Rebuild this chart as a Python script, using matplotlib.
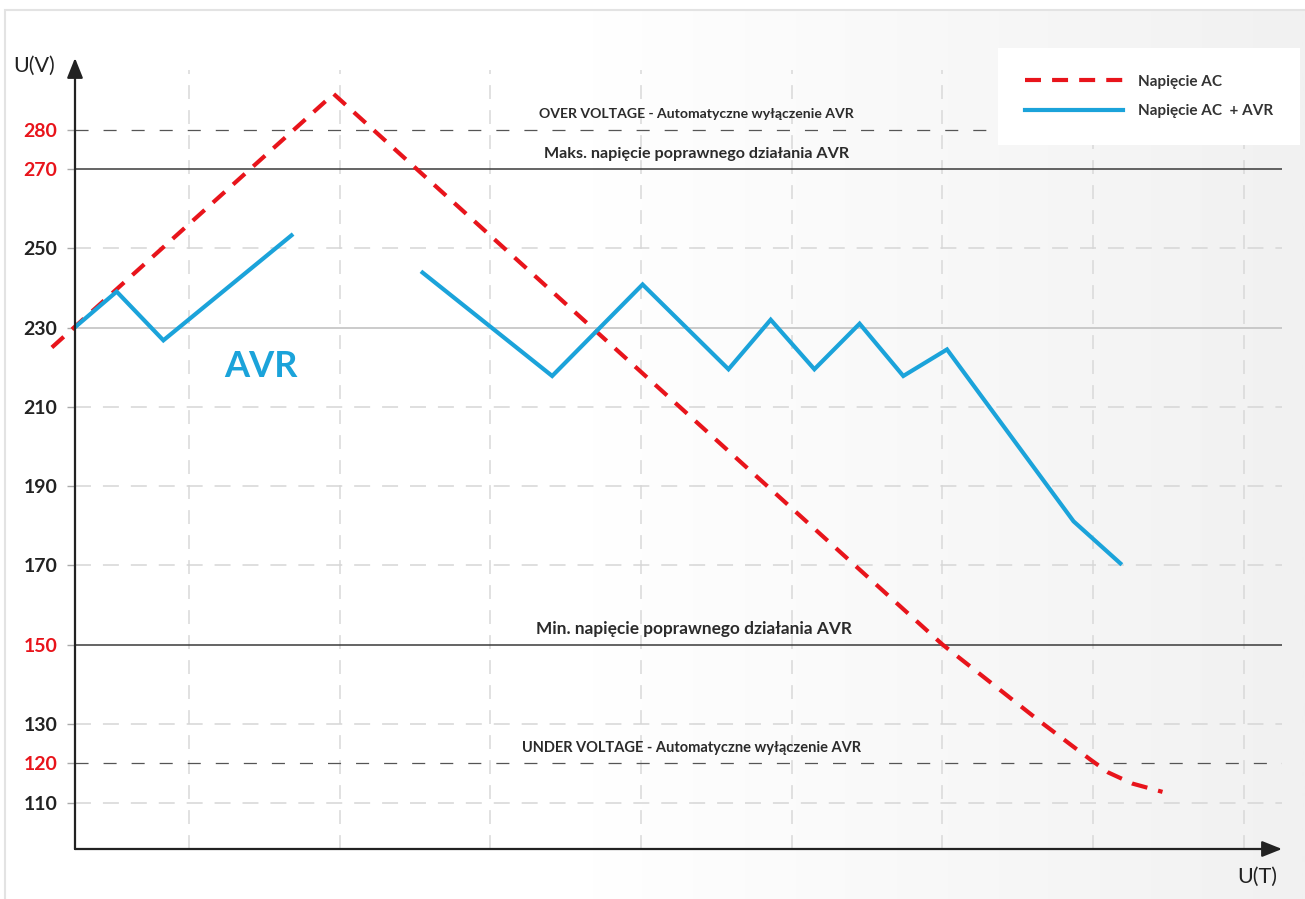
import numpy as np
import matplotlib
matplotlib.use('Agg')
import matplotlib.pyplot as plt
import matplotlib.transforms as mtransforms
from matplotlib.colors import LinearSegmentedColormap
from matplotlib.patches import Rectangle

plt.rcParams['font.family'] = ['Lato', 'DejaVu Sans']
plt.rcParams['lines.scale_dashes'] = False

# Napięcie AC (red dashed)
ac_t = [0.09, 1.96, 6.00, 6.65, 6.98, 7.10, 7.26, 7.46]
ac_u = [225.0, 289.0, 150.0, 130.5, 121.0, 117.7, 114.9, 112.8]

# Napięcie AC + AVR (blue), drawn in two pieces
avr1_t = [0.24, 0.52, 0.83, 1.68]
avr1_u = [230.0, 239.1, 226.8, 253.3]
avr2_t = [2.55, 3.41, 4.01, 4.58, 4.86, 5.15, 5.45, 5.74, 6.03, 6.87, 7.18]
avr2_u = [243.9, 217.8, 240.9, 219.5, 232.0, 219.5, 231.0, 217.8, 224.5, 181.1, 170.5]

y_ticks = [110, 120, 130, 150, 170, 190, 210, 230, 250, 270, 280]
red_ticks = [120, 150, 270, 280]
grid_light = [110, 130, 170, 190, 210, 250]
limit_solid = [150, 270]
limit_dashed = [120, 280]
nominal = 230
x_grid = [1, 2, 3, 4, 5, 6, 7, 8]

labels = {
    280: ('OVER VOLTAGE - Automatyczne wyłączenie AVR', 10.1, 0.515),
    270: ('Maks. napięcie poprawnego działania AVR', 11.6, 0.515),
    150: ('Min. napięcie poprawnego działania AVR', 12.4, 0.513),
    120: ('UNDER VOLTAGE - Automatyczne wyłączenie AVR', 10.5, 0.511),
}

RED = '#e8141b'
BLUE = '#1ba3da'
DARK = '#2b2b2b'

fig = plt.figure(figsize=(13.05, 8.99), dpi=100)

# background: white fading to light grey on the right, thin frame
bg = fig.add_axes([0, 0, 1, 1], zorder=-5)
bg.set_xlim(0, 1)
bg.set_ylim(0, 1)
bg.axis('off')
ramp = np.clip((np.linspace(0, 1, 512) - 0.45) / 0.55, 0, 1)[None, :]
cmap = LinearSegmentedColormap.from_list('bg', ['#ffffff', '#f1f1f1'])
bg.imshow(ramp, extent=[0.0035, 1, 0, 0.989], aspect='auto', cmap=cmap, vmin=0, vmax=1)
bg.add_patch(Rectangle((0.0035, -0.01), 1.0, 0.999, fill=False, edgecolor='#e3e3e3', lw=1.5))

ax = fig.add_axes([0.05747, 0.05562, 0.92490, 0.87987])
ax.set_facecolor('none')
ax.set_xlim(0.2435, 8.253)
ax.set_ylim(98.38, 298.08)

# grid / reference lines
for x in x_grid:
    ax.axvline(x, ymax=0.985, color='#d9d9d9', lw=1.1, dashes=(10, 8), zorder=1)
for v in grid_light:
    ax.axhline(v, color='#d6d6d6', lw=1.1, dashes=(11.5, 8.6), zorder=1)
ax.axhline(nominal, color='#bdbdbd', lw=1.1, zorder=1)
for v in limit_solid:
    ax.axhline(v, color='#3a3a3a', lw=1.1, zorder=1)
for v in limit_dashed:
    ax.axhline(v, color='#555555', lw=0.9, dashes=(9.4, 10.8), zorder=1)

ax.plot(ac_t, ac_u, color=RED, lw=3.0, dashes=(11.5, 8), label='Napięcie AC',
        zorder=3, clip_on=False)
ax.plot(avr1_t, avr1_u, color=BLUE, lw=3.0, label='Napięcie AC  + AVR', zorder=3,
        solid_joinstyle='miter')
ax.plot(avr2_t, avr2_u, color=BLUE, lw=3.0, zorder=3, solid_joinstyle='miter')

ax.text(1.48, 220.3, 'AVR', color=BLUE, fontsize=26, fontweight='bold',
        ha='center', va='center')

trans = mtransforms.blended_transform_factory(ax.transAxes, ax.transData)
for v, (txt, fs, xf) in labels.items():
    ax.annotate(txt, xy=(xf, v), xycoords=trans, xytext=(0, 11),
                textcoords='offset points', ha='center', va='center',
                fontsize=fs, fontweight='bold', color=DARK)

# axes with arrow heads
for s in ax.spines.values():
    s.set_visible(False)
arrow = dict(arrowstyle='-|>,head_length=0.55,head_width=0.22', mutation_scale=22,
             lw=1.6, color='#222222', shrinkA=0, shrinkB=0)
ax.annotate('', xy=(0, 1), xytext=(0, 0), xycoords='axes fraction', arrowprops=arrow)
ax.annotate('', xy=(1, 0), xytext=(0, 0), xycoords='axes fraction', arrowprops=arrow)

ax.set_xticks([])
ax.set_yticks(y_ticks)
ax.tick_params(axis='y', length=5.8, width=1.0, color='#aaaaaa', pad=7, labelsize=14)
for lbl, v in zip(ax.get_yticklabels(), y_ticks):
    lbl.set_fontweight('bold')
    lbl.set_color(RED if v in red_ticks else '#222222')

fig.text(34 / 1305, 1 - 65.5 / 899, 'U(V)', fontsize=15.5, ha='center', va='center',
         color='#222222')
fig.text(1257 / 1305, 1 - 877 / 899, 'U(T)', fontsize=15.5, ha='center', va='center',
         color='#222222')

ax.legend(loc='upper left', bbox_to_anchor=(998 / 1305, 1 - 48 / 899),
          bbox_transform=fig.transFigure, frameon=True, fancybox=False,
          edgecolor='none', facecolor='white', framealpha=1, borderpad=1.75,
          borderaxespad=0, handlelength=6.4, handletextpad=1.0, labelspacing=1.0,
          prop=dict(weight='bold', size=11), labelcolor='#333333')

fig.savefig('out.png', dpi=100)
